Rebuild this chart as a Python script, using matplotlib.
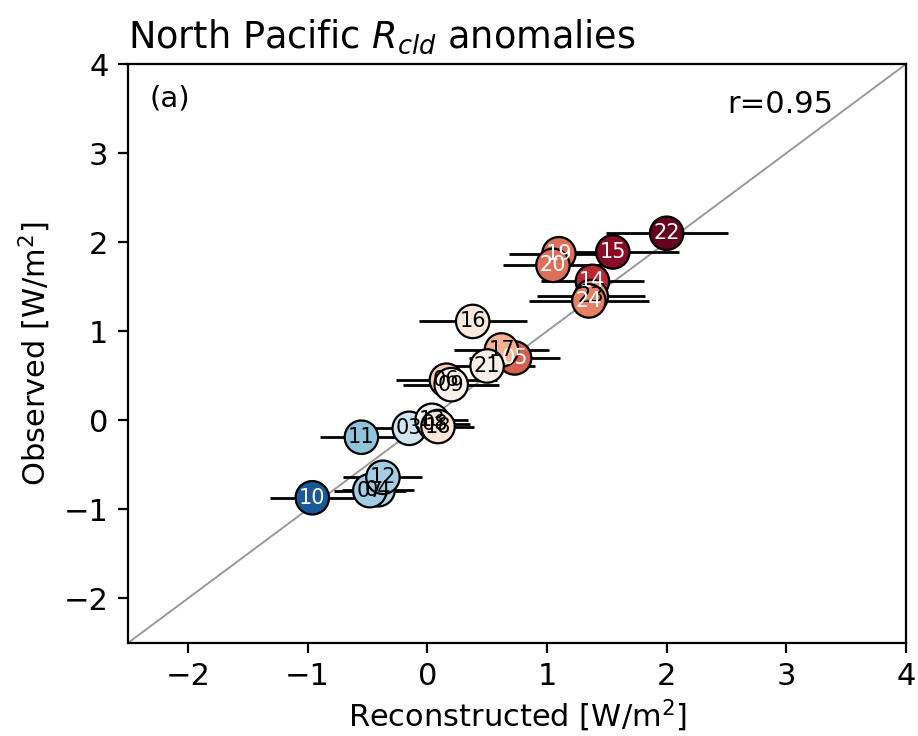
import matplotlib
matplotlib.use('Agg')
import matplotlib.pyplot as plt
import numpy as np

years = ['03', '04', '05', '06', '07', '08', '09', '10', '11', '12', '13',
         '14', '15', '16', '17', '18', '19', '20', '21', '22', '23', '24']
recon = [-0.15, -0.41, 0.73, 0.16, -0.48, 0.06, 0.20, -0.96, -0.55, -0.37, 0.04,
         1.38, 1.55, 0.38, 0.62, 0.09, 1.10, 1.05, 0.50, 2.00, 1.37, 1.35]
obs = [-0.09, -0.78, 0.70, 0.45, -0.79, -0.04, 0.40, -0.87, -0.19, -0.64, 0.00,
       1.56, 1.89, 1.11, 0.79, -0.07, 1.87, 1.74, 0.61, 2.10, 1.39, 1.34]
recon_err = [0.35, 0.30, 0.38, 0.42, 0.30, 0.30, 0.40, 0.35, 0.35, 0.33, 0.30,
             0.43, 0.55, 0.45, 0.40, 0.30, 0.42, 0.42, 0.40, 0.51, 0.45, 0.50]
# third variable used for colouring the points
cval = [-0.2, -0.3, 0.6, 0.25, -0.35, 0.08, 0.05, -0.85, -0.4, -0.35, 0.03,
        0.75, 0.9, 0.1, 0.35, 0.12, 0.55, 0.55, 0.05, 1.0, 0.45, 0.5]
r_value = 0.95

fig = plt.figure(figsize=(4.59, 3.68), dpi=200)
ax = fig.add_axes([0.1394, 0.1264, 0.8476, 0.7866])

ax.plot([-2.5, 4], [-2.5, 4], color='grey', lw=0.7, alpha=0.8, zorder=1)
ax.errorbar(recon, obs, xerr=recon_err, fmt='none', ecolor='black', elinewidth=1.0, zorder=2)

cmap = plt.get_cmap('RdBu_r')
norm = plt.Normalize(-1, 1)
ax.scatter(recon, obs, c=cval, cmap=cmap, norm=norm, s=145, edgecolors='black',
           linewidths=0.8, zorder=3)
for i in range(len(years)):
    tc = 'white' if abs(cval[i]) > 0.45 else 'black'
    ax.text(recon[i], obs[i], years[i], fontsize=7.5, color=tc, ha='center', va='center', zorder=4)

ax.set_xlim(-2.5, 4)
ax.set_ylim(-2.5, 4)
ax.set_xticks([-2, -1, 0, 1, 2, 3, 4])
ax.set_yticks([-2, -1, 0, 1, 2, 3, 4])
ax.tick_params(labelsize=11)
ax.set_xlabel('Reconstructed [W/m$^2$]', fontsize=11, labelpad=2.5)
ax.set_ylabel('Observed [W/m$^2$]', fontsize=11)
ax.set_title('North Pacific $R_{cld}$ anomalies', fontsize=13.2, loc='left')
ax.text(0.028, 0.965, '(a)', transform=ax.transAxes, fontsize=10.5, va='top')
ax.text(0.77, 0.955, 'r=%.2f' % r_value, transform=ax.transAxes, fontsize=11, va='top')

fig.savefig('out.png', dpi=200)
